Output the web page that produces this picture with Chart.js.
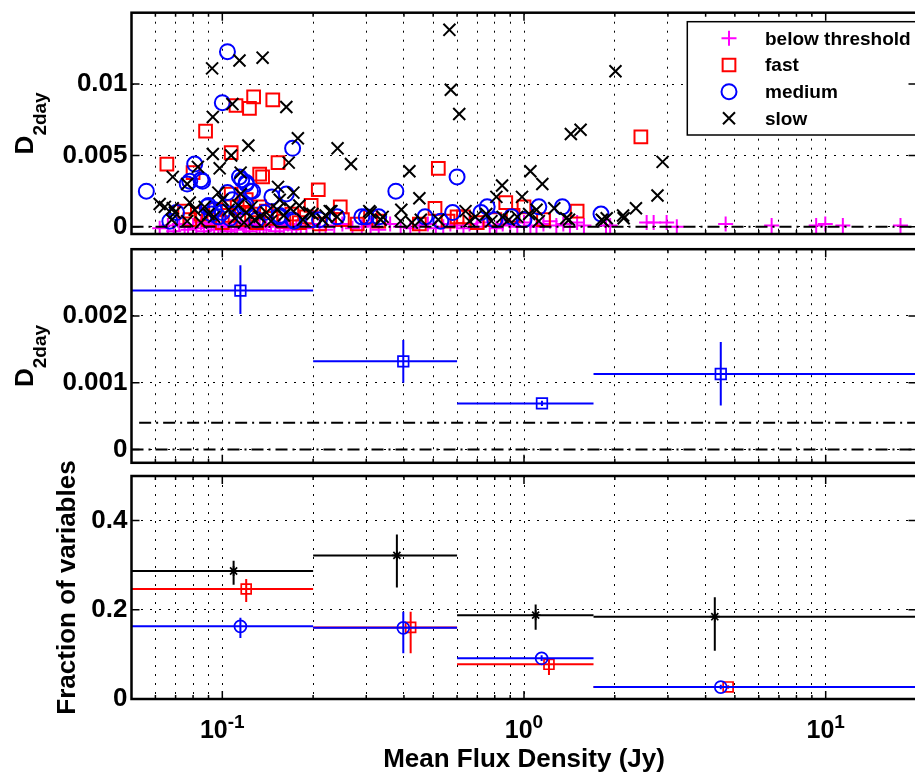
<!DOCTYPE html>
<html>
<head>
<meta charset="utf-8">
<title>D2day vs mean flux density</title>
<script src="https://cdn.jsdelivr.net/npm/chart.js@4.4.1/dist/chart.umd.min.js"></script>
<style>
  html, body { margin: 0; padding: 0; background: #fff; overflow: hidden; width: 915px; height: 772px; }
  canvas { position: absolute; left: 0; }
</style>
</head>
<body>
<canvas id="p1" width="930" height="245" style="top:0px"></canvas>
<canvas id="p2" width="930" height="232" style="top:240px"></canvas>
<canvas id="p3" width="930" height="332" style="top:440px"></canvas>
<script>
const FONT = "'Liberation Sans', Arial, Helvetica, sans-serif";
Chart.defaults.font.family = FONT;
Chart.defaults.color = "#000";

// ================= SHARED X AXIS =================
const xMin = 0.05, xMax = 20;
const xGrid = [0.06, 0.07, 0.08, 0.09, 0.1, 0.2, 0.3, 0.4, 0.5, 0.6, 0.7, 0.8, 0.9,
               1, 2, 3, 4, 5, 6, 7, 8, 9, 10];
const xDecades = [0.1, 1, 10];
const xDecadeBase = ["10", "10", "10"];
const xDecadeExp = ["-1", "0", "1"];
const xTitle = "Mean Flux Density (Jy)";

// ================= PANEL 1: sources =================
const legendLabels = ["below threshold", "fast", "medium", "slow"];
const d2dayTicks1 = [0, 0.005, 0.01];

const belowX = [0.062, 0.066, 0.069, 0.072, 0.075, 0.077, 0.08, 0.082, 0.085, 0.087,
  0.09, 0.092, 0.094, 0.097, 0.1, 0.102, 0.104, 0.107, 0.11, 0.112,
  0.115, 0.118, 0.12, 0.123, 0.126, 0.13, 0.133, 0.137, 0.14, 0.145,
  0.15, 0.155, 0.16, 0.165, 0.17, 0.176, 0.182, 0.19, 0.2, 0.21,
  0.22, 0.235, 0.25, 0.27, 0.29, 0.31, 0.33, 0.36, 0.39, 0.42,
  0.45, 0.48, 0.51, 0.54, 0.57, 0.6, 0.63, 0.66, 0.7, 0.73,
  0.77, 0.81, 0.85, 0.9, 0.95, 1.0, 1.05, 1.1, 1.16, 1.22,
  1.28, 1.35, 1.42, 1.5, 1.58, 1.87, 1.93, 2.55, 2.69, 2.97,
  3.21, 4.66, 6.62, 9.3, 9.97, 11.4, 17.7];
const belowY = [-0.0001, 0.0001, -0.0003, 0.0002, 0, -0.0002, 0.0001, -0.0001, 0.0003, -0.0003,
  0, 0.0002, -0.0002, 0.0001, -0.0001, 0.0002, -0.0003, 0, 0.0001, -0.0002,
  0.0003, -0.0001, 0, -0.0003, 0.0002, -0.0001, 0.0001, -0.0002, 0, 0.0002,
  -0.0003, 0.0001, -0.0001, 0.0002, -0.0002, 0, 0.0001, -0.0001, 0.0002, 0,
  -0.0002, 0.0001, 0.0002, -0.0001, 0, 0.0001, -0.0002, 0.0002, 0, -0.0001,
  0.0001, 0.0002, -0.0001, 0, 0.0002, 0.0001, -0.0001, 0.0002, 0, 0.0003,
  0.0001, -0.0001, 0.0002, 0.0001, 0, 0.0003, 0.0001, 0, 0.0002, 0.0004,
  0.0001, 0.0002, 0, 0.0003, 0.0001, 0.0001, 0.0001, 0.0003, 0.0003, 0.0003,
  0, 0.0002, 0.0001, 0.0001, 0.0002, 0.0001, 0.0001];

const fastX = [0.0655, 0.088, 0.107, 0.111, 0.123, 0.127, 0.147, 0.133, 0.136, 0.153,
  0.208, 0.197, 0.246, 0.08, 0.52, 0.507, 2.44, 1.5, 0.87, 1.0,
  0.63, 1.16, 0.33, 0.6, 0.075, 0.078, 0.19, 0.133, 0.107, 0.085,
  0.09, 0.095, 0.1, 0.105, 0.112, 0.117, 0.12, 0.125, 0.13, 0.14,
  0.145, 0.16, 0.17, 0.18, 0.21, 0.25, 0.28, 0.7, 0.8, 0.92,
  0.56, 0.45, 0.31];
const fastY = [0.0044, 0.0067, 0.0052, 0.0085, 0.0083, 0.0091, 0.0089, 0.0037, 0.0035, 0.0045,
  0.0026, 0.0015, 0.0014, 0.0038, 0.0041, 0.0013, 0.0063, 0.0011, 0.0017, 0.0014,
  0.0007, 0.0005, 0.0004, 0.0007, 0.0011, 0.0005, 0.0007, 0.0014, 0.0023, 0.0009,
  0.0005, 0.0012, 0.0003, 0.0008, 0.0014, 0.0005, 0.0019, 0.0009, 0.0003, 0.0011,
  0.0006, 0.0004, 0.0009, 0.0003, 0.0002, 0.0005, 0.0002, 0.0003, 0.0005, 0.0008,
  0.0004, 0.0002, 0.0007];

const mediumX = [0.104, 0.1, 0.056, 0.081, 0.086, 0.0765, 0.171, 0.116, 0.12, 0.126,
  0.146, 0.163, 0.067, 0.0705, 0.089, 0.1, 0.118, 0.154, 0.173, 0.21,
  0.24, 0.3, 0.33, 0.376, 0.47, 0.53, 0.58, 0.6, 0.755, 0.72,
  0.8, 0.91, 1.0, 1.12, 1.34, 1.8, 0.29, 0.114, 0.12, 0.124,
  0.108, 0.104, 0.078, 0.085, 0.09, 0.094, 0.092, 0.097, 0.12, 0.138,
  0.155, 0.171, 0.2, 0.106, 0.13];
const mediumY = [0.01227, 0.0087, 0.0025, 0.0044, 0.0032, 0.003, 0.0055, 0.0033, 0.003, 0.0025,
  0.0021, 0.0023, 0.0004, 0.001, 0.0014, 0.001, 0.0014, 0.0007, 0.0004, 0.0005,
  0.0007, 0.0007, 0.0007, 0.0025, 0.0007, 0.0004, 0.001, 0.0035, 0.0014, 0.001,
  0.0005, 0.0007, 0.0005, 0.0014, 0.0014, 0.0009, 0.0007, 0.0035, 0.0031, 0.0025,
  0.0019, 0.0024, 0.0032, 0.0033, 0.0015, 0.0012, 0.0009, 0.0007, 0.0015, 0.001,
  0.0008, 0.0005, 0.0005, 0.0006, 0.0005];

const slowX = [0.0925, 0.114, 0.136, 0.093, 0.108, 0.163, 0.178, 0.122, 0.241, 0.267,
  0.093, 0.107, 0.098, 0.083, 0.0685, 0.0765, 0.166, 0.172, 0.153, 0.417,
  0.45, 0.392, 0.194, 0.22, 0.23, 0.307, 0.335, 0.425, 0.566, 0.572,
  0.61, 2.01, 1.43, 1.54, 2.88, 2.77, 2.35, 2.13, 2.14, 1.05,
  1.15, 0.846, 0.985, 0.81, 1.26, 1.41, 1.88, 0.64, 1.38, 1.81,
  1.10, 1.12, 0.227, 0.24, 0.31, 0.34, 0.39, 0.455, 0.52, 1.83,
  0.0645, 0.0696, 0.068, 0.078, 0.081, 0.0765, 0.0874, 0.094, 0.097, 0.1,
  0.115, 0.18, 0.155, 0.115, 0.12, 0.133, 0.152, 0.199, 0.215, 0.105,
  0.11, 0.113, 0.118, 0.125, 0.128, 0.14, 0.145, 0.16, 0.168, 0.185,
  0.09, 0.085, 0.062, 0.0685, 0.66, 0.69, 0.75, 0.78, 0.85, 0.89,
  0.95, 1.04];
const slowY = [0.0111, 0.01165, 0.01185, 0.0077, 0.0086, 0.0084, 0.0062, 0.0057, 0.0055, 0.0044,
  0.0051, 0.005, 0.0041, 0.0042, 0.0035, 0.003, 0.0045, 0.0024, 0.0028, 0.0039,
  0.002, 0.0012, 0.001, 0.0008, 0.0011, 0.0011, 0.0005, 0.0003, 0.0138, 0.0096,
  0.0079, 0.0109, 0.0065, 0.0068, 0.00455, 0.0022, 0.0013, 0.0008, 0.0006, 0.0039,
  0.003, 0.0029, 0.0021, 0.0021, 0.0013, 0.0005, 0.0006, 0.0011, 0.0006, 0.0005,
  0.0012, 0.0004, 0.0011, 0.0007, 0.001, 0.0007, 0.0004, 0.0005, 0.0005, 0.0004,
  0.0014, 0.001, 0.0005, 0.0017, 0.0012, 0.0004, 0.0014, 0.0007, 0.0024, 0.0019,
  0.0038, 0.0015, 0.0019, 0.0023, 0.001, 0.0007, 0.0012, 0.0009, 0.0005, 0.0012,
  0.0006, 0.0015, 0.0003, 0.0014, 0.0005, 0.001, 0.0004, 0.0008, 0.0013, 0.0005,
  0.0009, 0.0003, 0.0016, 0.0013, 0.0004, 0.0007, 0.0009, 0.0004, 0.0007, 0.0005,
  0.0007, 0.0009];

// ================= PANEL 2: binned D2day =================
const binLo = [0.05, 0.2, 0.6, 1.7];
const binHi = [0.2, 0.6, 1.7, 20];
const binFlux = [0.1148, 0.398, 1.147, 4.49];
const binD = [0.00238, 0.00132, 0.00069, 0.00113];
const binDLo = [0.00203, 0.001, 0.00065, 0.00066];
const binDHi = [0.00276, 0.00164, 0.00073, 0.00161];
const d2dayTicks2 = [0, 0.001, 0.002];
const thresholdD = 0.0004;

// ================= PANEL 3: fraction of variables =================
const fracTicks = [0, 0.2, 0.4];
const slowFracX = [0.109, 0.379, 1.093, 4.29];
const slowFrac = [0.287, 0.322, 0.188, 0.1845];
const slowFracLo = [0.256, 0.25, 0.155, 0.108];
const slowFracHi = [0.31, 0.369, 0.212, 0.228];
const fastFracX = [0.12, 0.421, 1.21, 4.75];
const fastFrac = [0.2466, 0.1605, 0.0778, 0.027];
const fastFracLo = [0.2175, 0.1025, 0.0538, 0.023];
const fastFracHi = [0.269, 0.1957, 0.089, 0.031];
const mediumFracX = [0.1148, 0.398, 1.144, 4.49];
const mediumFrac = [0.1629, 0.1595, 0.0913, 0.0268];
const mediumFracLo = [0.1368, 0.1025, 0.085, 0.022];
const mediumFracHi = [0.1823, 0.1957, 0.098, 0.032];

// ================= HELPERS =================
function pts(xs, ys) {
  return xs.map((x, i) => ({ x, y: ys[i] }));
}

function markers(xs, ys, style, r, color, order, bw) {
  return {
    data: pts(xs, ys), showLine: false, order,
    pointStyle: style, pointRadius: r, pointBorderWidth: bw || 2,
    pointBorderColor: color, pointBackgroundColor: "rgba(0,0,0,0)"
  };
}

function segment(x0, y0, x1, y1, color, width, dash, order) {
  return {
    data: [{ x: x0, y: y0 }, { x: x1, y: y1 }],
    showLine: true, pointRadius: 0, order,
    borderColor: color, borderWidth: width, borderDash: dash || []
  };
}

function binned(xs, ys, lo, hi, style, r, color, order) {
  const out = [];
  ys.forEach((v, i) => {
    out.push(segment(binLo[i], v, binHi[i], v, color, 2, null, order));
    out.push(segment(xs[i], lo[i], xs[i], hi[i], color, 2, null, order));
  });
  out.push(markers(xs, ys, style, r, color, order, 1.7));
  return out;
}

const DASHDOT = [12, 5, 2, 5];

// per-panel layout info used by the drawing plugin
const panelInfo = {
  p1: { yTicks: d2dayTicks1, title: "D", sub: "2day", titleX: 33, legend: true },
  p2: { yTicks: d2dayTicks2, title: "D", sub: "2day", titleX: 33 },
  p3: { yTicks: fracTicks, title: "Fraction of variables", sub: "", titleX: 75, xLabels: true }
};

function yTitle(ctx, cx, cy, main, sub) {
  ctx.save();
  ctx.translate(cx, cy);
  ctx.rotate(-Math.PI / 2);
  ctx.fillStyle = "#000";
  ctx.textAlign = "left";
  ctx.textBaseline = "alphabetic";
  ctx.font = "bold 26px " + FONT;
  const w1 = ctx.measureText(main).width;
  let w2 = 0;
  if (sub) {
    ctx.font = "bold 19px " + FONT;
    w2 = ctx.measureText(sub).width;
  }
  const x0 = -(w1 + w2) / 2;
  ctx.font = "bold 26px " + FONT;
  ctx.fillText(main, x0, 0);
  if (sub) {
    ctx.font = "bold 19px " + FONT;
    ctx.fillText(sub, x0 + w1, 13);
  }
  ctx.restore();
}

function drawLegend(ctx) {
  const left = 687.3, top = 21.7, bottom = 135;
  ctx.save();
  ctx.fillStyle = "#fff";
  ctx.fillRect(left, top, 240, bottom - top);
  ctx.strokeStyle = "#000";
  ctx.lineWidth = 1.5;
  ctx.strokeRect(left, top, 240, bottom - top);
  const rows = [38.3, 65, 91.7, 118.3];
  const styles = [["cross", 7.5, "#ff00ff"], ["rect", 9, "#ff0000"], ["circle", 7.5, "#0000ff"], ["crossRot", 8.5, "#000"]];
  legendLabels.forEach((lab, i) => {
    ctx.strokeStyle = styles[i][2];
    ctx.fillStyle = "rgba(0,0,0,0)";
    ctx.lineWidth = 2;
    Chart.helpers.drawPoint(ctx, { pointStyle: styles[i][0], radius: styles[i][1], borderWidth: 2, rotation: 0 }, 729, rows[i]);
    ctx.fillStyle = "#000";
    ctx.font = "bold 19px " + FONT;
    ctx.textAlign = "left";
    ctx.textBaseline = "middle";
    ctx.fillText(lab, 765, rows[i] + 1);
  });
  ctx.restore();
}

const matlab = {
  id: "matlab",
  afterDatasetsDraw(chart) {
    const o = panelInfo[chart.canvas.id];
    const { ctx, chartArea: a, scales: { x, y } } = chart;
    ctx.save();
    if (o.legend) drawLegend(ctx);

    // box + inward ticks
    ctx.strokeStyle = "#000";
    ctx.lineWidth = 2.5;
    ctx.strokeRect(a.left, a.top, a.right - a.left, a.bottom - a.top);
    ctx.lineWidth = 1.5;
    ctx.beginPath();
    xGrid.forEach(v => {
      const px = x.getPixelForValue(v);
      const len = xDecades.includes(v) ? 8 : 4;
      ctx.moveTo(px, a.bottom); ctx.lineTo(px, a.bottom - len);
      ctx.moveTo(px, a.top); ctx.lineTo(px, a.top + len);
    });
    o.yTicks.forEach(v => {
      const py = y.getPixelForValue(v);
      ctx.moveTo(a.left, py); ctx.lineTo(a.left + 8, py);
      ctx.moveTo(a.right, py); ctx.lineTo(a.right - 8, py);
    });
    ctx.stroke();

    yTitle(ctx, o.titleX, (a.top + a.bottom) / 2, o.title, o.sub);

    if (o.xLabels) {
      ctx.fillStyle = "#000";
      ctx.textBaseline = "alphabetic";
      ctx.textAlign = "left";
      xDecades.forEach((v, i) => {
        const px = x.getPixelForValue(v);
        ctx.font = "bold 25px " + FONT;
        const wb = ctx.measureText(xDecadeBase[i]).width;
        ctx.font = "bold 19px " + FONT;
        const we = ctx.measureText(xDecadeExp[i]).width;
        const x0 = px - (wb + we) / 2;
        ctx.font = "bold 25px " + FONT;
        ctx.fillText(xDecadeBase[i], x0, a.bottom + 39);
        ctx.font = "bold 19px " + FONT;
        ctx.fillText(xDecadeExp[i], x0 + wb, a.bottom + 29);
      });
      ctx.font = "bold 26px " + FONT;
      ctx.textAlign = "center";
      ctx.fillText(xTitle, (a.left + a.right) / 2, a.bottom + 68);
    }
    ctx.restore();
  }
};

function panelOptions(yMin, yMax, yTicks, padding) {
  const gridLines = { color: "#000", lineWidth: 1, drawTicks: false };
  return {
    responsive: false, animation: false, devicePixelRatio: 1, events: [],
    layout: { padding },
    plugins: { legend: { display: false }, tooltip: { enabled: false } },
    scales: {
      x: {
        type: "logarithmic", min: xMin, max: xMax,
        afterBuildTicks: s => { s.ticks = xGrid.map(v => ({ value: v })); },
        afterFit: s => { s.height = 0; s.paddingLeft = 0; s.paddingRight = 0; },
        ticks: { display: false },
        grid: gridLines,
        border: { display: false, dash: [2, 7] }
      },
      y: {
        min: yMin, max: yMax,
        afterBuildTicks: s => { s.ticks = yTicks.map(v => ({ value: v })); },
        afterFit: s => { s.width = 131.5; s.paddingTop = 0; s.paddingBottom = 0; },
        ticks: { font: { size: 26, weight: "bold" }, color: "#000", padding: 4, callback: v => String(v) },
        grid: gridLines,
        border: { display: false, dash: [2, 7] }
      }
    }
  };
}

// ================= CHARTS =================
new Chart(document.getElementById("p1"), {
  type: "scatter",
  data: {
    datasets: [
      segment(xMin, 0, xMax, 0, "#000", 2, DASHDOT, 0),
      markers(slowX, slowY, "crossRot", 8.5, "#000", 1),
      markers(mediumX, mediumY, "circle", 7.5, "#0000ff", 2),
      markers(fastX, fastY, "rect", 9, "#ff0000", 3),
      markers(belowX, belowY, "cross", 7.5, "#ff00ff", 4)
    ]
  },
  options: panelOptions(-0.0005, 0.015, d2dayTicks1, { top: 12.7, bottom: 10, left: 0, right: 13.5 }),
  plugins: [matlab]
});

new Chart(document.getElementById("p2"), {
  type: "scatter",
  data: {
    datasets: [
      segment(0.053, thresholdD, xMax, thresholdD, "#000", 2, DASHDOT, 5),
      segment(xMin, 0, xMax, 0, "#000", 2, DASHDOT, 5),
      ...binned(binFlux, binD, binDLo, binDHi, "rect", 7.5, "#0000ff", 1)
    ]
  },
  options: panelOptions(-0.0002, 0.003, d2dayTicks2, { top: 4, bottom: 5.3, left: 0, right: 13.5 }),
  plugins: [matlab]
});

new Chart(document.getElementById("p3"), {
  type: "scatter",
  data: {
    datasets: [
      ...binned(slowFracX, slowFrac, slowFracLo, slowFracHi, "star", 5, "#000", 3),
      ...binned(fastFracX, fastFrac, fastFracLo, fastFracHi, "rect", 7, "#ff0000", 2),
      ...binned(mediumFracX, mediumFrac, mediumFracLo, mediumFracHi, "circle", 6, "#0000ff", 1)
    ]
  },
  options: panelOptions(0, 0.5, fracTicks, { top: 36, bottom: 73, left: 0, right: 13.5 }),
  plugins: [matlab]
});
</script>
</body>
</html>
